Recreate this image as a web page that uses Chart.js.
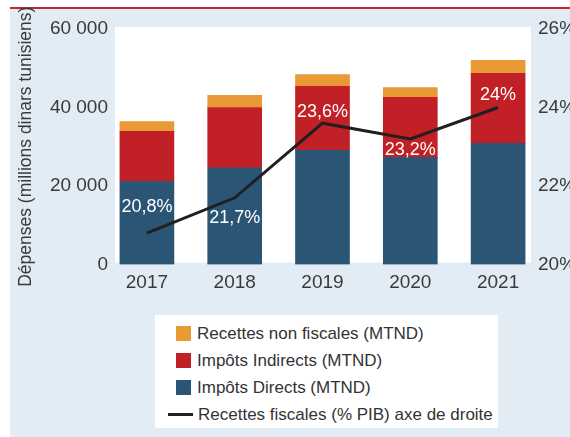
<!DOCTYPE html>
<html>
<head>
<meta charset="utf-8">
<script src="https://cdn.jsdelivr.net/npm/chart.js@4.4.1/dist/chart.umd.min.js"></script>
<style>
  body { margin: 0; background: #fff; }
  #wrap { position: relative; width: 570px; height: 437px; overflow: hidden; }
  #frame { position: absolute; left: 10px; top: 7px; right: 0; bottom: 0; background: #e1ecf5; border-top: 2px solid #c1272d; }
  canvas { position: absolute; left: 0; top: 0; }
  #legend { position: absolute; left: 155px; top: 315px; width: 343px; height: 113px; background: #fff;
    box-sizing: border-box; padding: 5px 0 0 21px; font-family: "Liberation Sans", Arial, sans-serif;
    font-size: 17px; color: #333; }
  #legend .item { display: flex; align-items: center; height: 27px; white-space: nowrap; }
  #legend .box { width: 15px; height: 15px; margin-right: 6px; flex: none; }
  #legend .line { width: 25px; height: 3px; margin-left: -8px; margin-right: 5px; flex: none; }
</style>
</head>
<body>
<div id="wrap">
  <div id="frame"></div>
  <canvas id="chart" width="570" height="437"></canvas>
  <div id="legend"></div>
</div>
<script>
// data
const years = ["2017", "2018", "2019", "2020", "2021"];
const impotsDirects = [21200, 24600, 29100, 27300, 30900];
const impotsIndirects = [12700, 15400, 16300, 15300, 17800];
const recettesNonFiscales = [2500, 3100, 3000, 2500, 3300];
const recettesFiscalesPib = [20.8, 21.7, 23.6, 23.2, 24];
const leftTicks = [0, 20000, 40000, 60000];
const rightTicks = [20, 22, 24, 26];

const tickFont = { family: "'Liberation Sans', Arial, sans-serif", size: 19 };
const textColor = "#3a3a3a";

// white plot box, a bit narrower than the chart area
const plotBackground = {
  id: "plotBackground",
  beforeDraw(chart) {
    const { ctx, chartArea: a } = chart;
    ctx.save();
    ctx.fillStyle = "#ffffff";
    ctx.fillRect(a.left + 12, a.top - 2, a.right - a.left - 23, a.bottom - a.top);
    ctx.restore();
  },
};

// white % labels next to the line points
const labelShift = [-26, 20, -11, 11, -12];
const lineLabels = {
  id: "lineLabels",
  afterDatasetsDraw(chart) {
    const { ctx } = chart;
    const idx = chart.data.datasets.findIndex((d) => d.type === "line");
    const meta = chart.getDatasetMeta(idx);
    ctx.save();
    ctx.font = "18px 'Liberation Sans', Arial, sans-serif";
    ctx.fillStyle = "#ffffff";
    ctx.textAlign = "center";
    ctx.textBaseline = "middle";
    meta.data.forEach((pt, i) => {
      const txt = String(recettesFiscalesPib[i]).replace(".", ",") + "%";
      ctx.fillText(txt, pt.x, pt.y + labelShift[i]);
    });
    ctx.restore();
  },
};

// tick labels poke a few px into the plot, so don't clip them to the axis box
const noLabelClip = (s) => { s._computeLabelArea = () => null; };

const canvas = document.getElementById("chart");

const chart = new Chart(canvas, {
  type: "bar",
  data: {
    labels: years,
    datasets: [
      {
        type: "line",
        label: "Recettes fiscales (% PIB) axe de droite",
        data: recettesFiscalesPib,
        yAxisID: "y1",
        borderColor: "#231f20",
        backgroundColor: "#231f20",
        borderWidth: 3,
        pointRadius: 0,
        tension: 0,
        order: 0,
      },
      {
        label: "Impôts Directs (MTND)",
        data: impotsDirects,
        backgroundColor: "#2b5574",
        order: 1,
      },
      {
        label: "Impôts Indirects (MTND)",
        data: impotsIndirects,
        backgroundColor: "#c12026",
        order: 1,
      },
      {
        label: "Recettes non fiscales (MTND)",
        data: recettesNonFiscales,
        backgroundColor: "#ea9a35",
        order: 1,
      },
    ],
  },
  options: {
    responsive: false,
    animation: false,
    layout: { padding: { left: 10, right: 0, top: 29, bottom: 142.5 } },
    datasets: {
      bar: { barThickness: 54, categoryPercentage: 1 },
    },
    plugins: {
      legend: { display: false },
      tooltip: { enabled: false },
    },
    scales: {
      x: {
        stacked: true,
        grid: { display: false, drawTicks: false },
        border: { display: false },
        ticks: { font: tickFont, color: textColor, padding: 7 },
        afterFit: (s) => { s.height = 30; },
      },
      y: {
        stacked: true,
        position: "left",
        min: leftTicks[0],
        max: leftTicks[leftTicks.length - 1],
        afterBuildTicks: (s) => { s.ticks = leftTicks.map((v) => ({ value: v })); },
        grid: { display: false, drawTicks: false },
        border: { display: false },
        ticks: {
          font: tickFont,
          color: textColor,
          padding: -5,
          callback: (v) => String(v).replace(/\B(?=(\d{3})+(?!\d))/g, " "),
        },
        title: {
          display: true,
          text: "Dépenses (millions dinars tunisiens)",
          font: { family: "'Liberation Sans', Arial, sans-serif", size: 17.5 },
          color: textColor,
          padding: { top: 6, bottom: 0 },
        },
        afterFit: (s) => { s.width = 93; noLabelClip(s); },
      },
      y1: {
        position: "right",
        min: rightTicks[0],
        max: rightTicks[rightTicks.length - 1],
        afterBuildTicks: (s) => { s.ticks = rightTicks.map((v) => ({ value: v })); },
        grid: { display: false, drawTicks: false },
        border: { display: false },
        ticks: {
          font: tickFont,
          color: textColor,
          padding: -4,
          callback: (v) => v + "%",
        },
        afterFit: (s) => { s.width = 28; noLabelClip(s); },
      },
    },
  },
  plugins: [plotBackground, lineLabels],
});

// html legend: bars top to bottom, then the line
const legendBox = document.getElementById("legend");
const bars = chart.data.datasets.filter((d) => d.type !== "line").reverse();
const lines = chart.data.datasets.filter((d) => d.type === "line");
bars.concat(lines).forEach((d) => {
  const item = document.createElement("div");
  item.className = "item";
  const swatch = document.createElement("span");
  swatch.className = d.type === "line" ? "line" : "box";
  swatch.style.background = d.type === "line" ? d.borderColor : d.backgroundColor;
  const txt = document.createElement("span");
  txt.textContent = d.label;
  item.appendChild(swatch);
  item.appendChild(txt);
  legendBox.appendChild(item);
});
</script>
</body>
</html>
